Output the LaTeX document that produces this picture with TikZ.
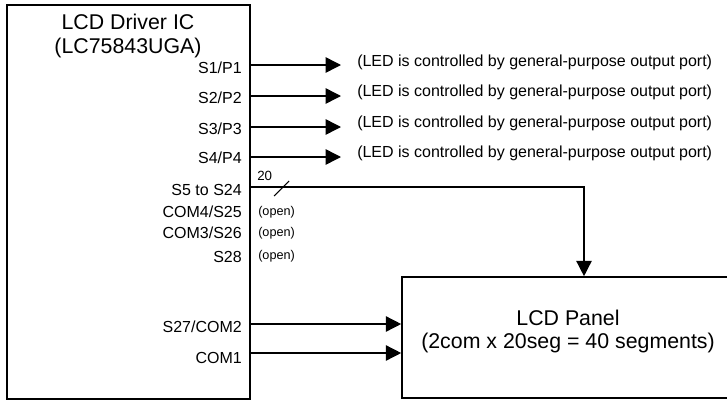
\documentclass[tikz,border=0pt]{standalone}
\usepackage{fontspec}
\setmainfont{Liberation Sans}
\usetikzlibrary{arrows.meta}
\begin{document}
\begin{tikzpicture}[x=.75pt,y=-.75pt,
                    line/.style={line width=1.1pt},
                    arr/.style={line,-{Triangle[length=11.5pt,width=11.5pt]}},
                    box/.style={draw,line width=1.2pt,inner sep=0pt},
                    pin/.style={anchor=base east,inner sep=0pt,font=\fontsize{12}{14}\selectfont},
                    note/.style={anchor=base west,inner sep=0pt,font=\fontsize{12}{14}\selectfont},
                    nc/.style={anchor=base west,inner sep=0pt,font=\fontsize{9.5}{11}\selectfont},
                    title/.style={align=center,inner sep=0pt,font=\fontsize{16}{17.5}\selectfont}]
 \useasboundingbox (0,0) rectangle (727,400);
 % blocks
 \node[box,minimum width=182.25pt,minimum height=295.5pt] (ic) at (128.5,202) {};
 \node[title,anchor=north] (icname) at (128,14) {LCD Driver IC\\(LC75843UGA)};
 \node[box,minimum width=249pt,minimum height=90.75pt] (panel) at (568,337.5) {};
 \node[title,anchor=north] (panelname) at (568,309.5) {LCD Panel\\(2com x 20seg = 40 segments)};
 % pin names
 \node[pin] (n1) at (242,73.5) {S1/P1};
 \node[pin] (n2) at (242,103) {S2/P2};
 \node[pin] (n3) at (242,134) {S3/P3};
 \node[pin] (n4) at (242,163.5) {S4/P4};
 \node[pin] (n5) at (242,195.5) {S5 to S24};
 \node[pin] (n25) at (242,217.5) {COM4/S25};
 \node[pin] (n26) at (242,238.5) {COM3/S26};
 \node[pin] (n28) at (242,262) {S28};
 \node[pin] (n27) at (242,332) {S27/COM2};
 \node[pin] (nc1) at (242,363) {COM1};
 \node[nc] (o25) at (258,215.5) {(open)};
 \node[nc] (o26) at (258,236) {(open)};
 \node[nc] (o28) at (258,259) {(open)};
 % port outputs
 \coordinate (s1) at (250,65);  \coordinate (t1) at (341,65);
 \coordinate (s2) at (250,96);  \coordinate (t2) at (341,96);
 \coordinate (s3) at (250,127); \coordinate (t3) at (341,127);
 \coordinate (s4) at (250,157); \coordinate (t4) at (341,157);
 \draw[arr] (s1) -- (t1);
 \draw[arr] (s2) -- (t2);
 \draw[arr] (s3) -- (t3);
 \draw[arr] (s4) -- (t4);
 \node[note] (led1) at (357,66.5) {(LED is controlled by general-purpose output port)};
 \node[note] (led2) at (357,96.5) {(LED is controlled by general-purpose output port)};
 \node[note] (led3) at (357,127) {(LED is controlled by general-purpose output port)};
 \node[note] (led4) at (357,157) {(LED is controlled by general-purpose output port)};
 % segment bus
 \coordinate (s5) at (250,187);
 \coordinate (bus) at (584,187);
 \draw[arr] (s5) -- (bus) -- (bus |- panel.north);
 \draw[line width=.8pt] (274,196) -- (289,181);
 \node[nc,font=\fontsize{10}{12}\selectfont] (w) at (257,180) {20};
 % commons
 \coordinate (c2) at (250,324);
 \coordinate (c1) at (250,353);
 \draw[arr] (c2) -- (c2 -| panel.west);
 \draw[arr] (c1) -- (c1 -| panel.west);
\end{tikzpicture}
\end{document}
